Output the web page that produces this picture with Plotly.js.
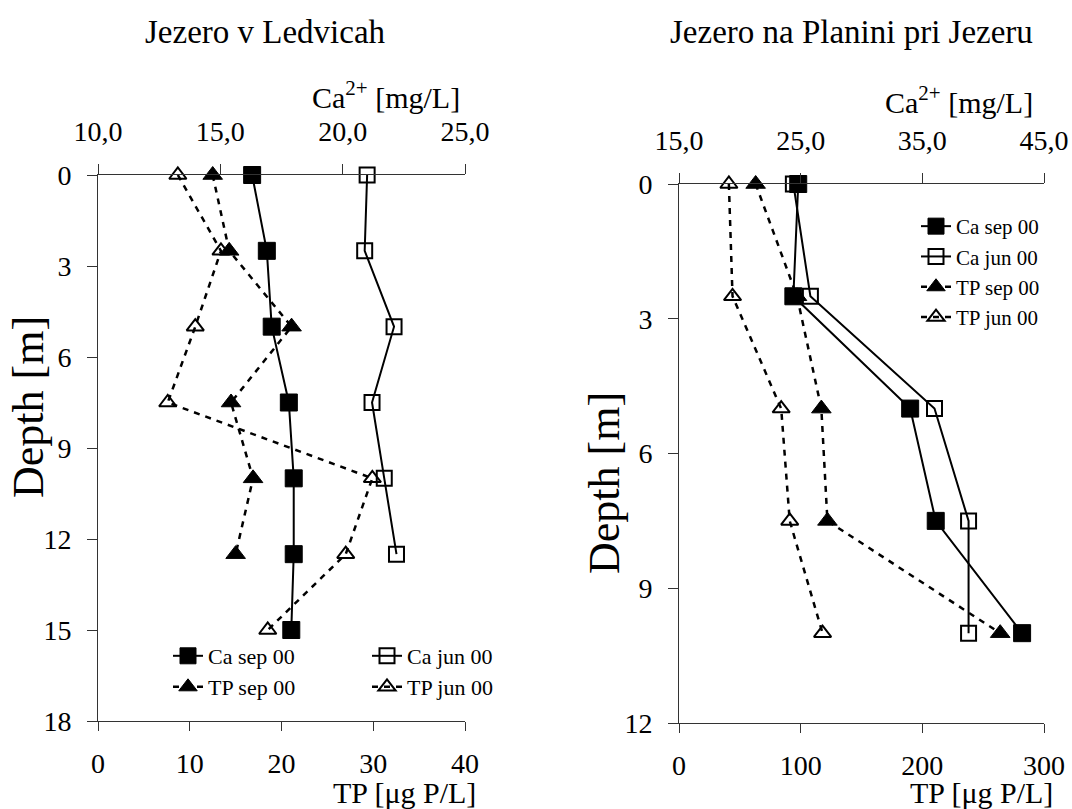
<!DOCTYPE html>
<html>
<head>
<meta charset="utf-8">
<script src="https://cdn.plot.ly/plotly-3.0.1.min.js"></script>
<style>html,body{margin:0;padding:0;background:#fff;}#chart{width:1072px;height:809px;}</style>
</head>
<body>
<div id="chart"></div>
<script>
// ---------- data: Jezero v Ledvicah ----------
const depthL      = [0, 2.5, 5, 7.5, 10, 12.5, 15];
const depthL6     = [0, 2.5, 5, 7.5, 10, 12.5];
const caSepL      = [16.3, 16.9, 17.1, 17.8, 18.0, 18.0, 17.9];
const caJunL      = [21.0, 20.9, 22.1, 21.2, 21.7, 22.2];
const tpSepL      = [12.5, 14.3, 21.1, 14.5, 16.9, 15.0];
const tpJunL      = [8.7, 13.4, 10.6, 7.6, 29.9, 27.0, 18.5];
// ---------- data: Jezero na Planini pri Jezeru ----------
const depthR      = [0, 2.5, 5, 7.5, 10];
const caSepR      = [24.8, 24.4, 34.0, 36.1, 43.2];
const caJunR      = [24.4, 25.8, 36.0, 38.8, 38.8];
const tpSepR      = [63, 97, 117, 122, 264];
const tpJunR      = [41, 44, 84, 91, 118];
// ---------- labels ----------
const seriesNames = ['Ca sep 00', 'Ca jun 00', 'TP sep 00', 'TP jun 00'];
const titles      = ['Jezero v Ledvicah', 'Jezero na Planini pri Jezeru'];
const caTitle     = 'Ca<sup>2+</sup> [mg/L]';
const tpTitle     = 'TP [μg P/L]';
const depthTitle  = 'Depth [m]';
const depthTicksL = [0, 3, 6, 9, 12, 15, 18];
const depthTicksR = [0, 3, 6, 9, 12];
const caTicksL    = [10, 15, 20, 25];
const caTicksR    = [15, 25, 35, 45];
const tpTicksL    = [0, 10, 20, 30, 40];
const tpTicksR    = [0, 100, 200, 300];

const W = 1072, H = 809;
const px = v => v / W;
const py = v => 1 - v / H;
const FONT = "'Liberation Serif', 'Times New Roman', Times, serif";

function styleOf(kind) {
  const solid = {color: '#000', width: 2};
  const dashed = {color: '#000', width: 2.5, dash: '6px,6px'};
  switch (kind) {
    case 0: return {line: solid,  marker: {symbol: 'square', size: 17, color: '#000', line: {color: '#000', width: 1}}};
    case 1: return {line: solid,  marker: {symbol: 'square-open', size: 15, color: '#000', line: {color: '#000', width: 2}}};
    case 2: return {line: dashed, marker: {symbol: 'triangle-up', size: 17, color: '#000', line: {color: '#000', width: 1}}};
    default: return {line: dashed, marker: {symbol: 'triangle-up-open', size: 15, color: '#000', line: {color: '#000', width: 2}}};
  }
}
function tr(kind, x, y, xa, ya, legend) {
  const s = styleOf(kind);
  return Object.assign({
    type: 'scatter', mode: 'lines+markers', name: seriesNames[kind],
    x: x, y: y, xaxis: xa, yaxis: ya, legend: legend, legendrank: kind + 1,
    cliponaxis: false, hoverinfo: 'skip'
  }, s);
}

const data = [
  // left panel (draw order: TP jun, TP sep, Ca jun, Ca sep)
  tr(3, tpJunL, depthL,  'x',  'y', 'legend2'),
  tr(2, tpSepL, depthL6, 'x',  'y', 'legend2'),
  tr(1, caJunL, depthL6, 'x2', 'y', 'legend'),
  tr(0, caSepL, depthL,  'x2', 'y', 'legend'),
  // right panel
  tr(3, tpJunR, depthR, 'x3', 'y2', 'legend3'),
  tr(2, tpSepR, depthR, 'x3', 'y2', 'legend3'),
  tr(1, caJunR, depthR, 'x4', 'y2', 'legend3'),
  tr(0, caSepR, depthR, 'x4', 'y2', 'legend3')
];

const axBase = {
  showgrid: false, zeroline: false, showline: true, linecolor: '#333', linewidth: 1,
  ticks: 'outside', tickcolor: '#333', tickwidth: 1, ticklen: 10,
  tickfont: {family: FONT, size: 28, color: '#000'}, fixedrange: true
};
const ax = o => Object.assign({}, axBase, o);

const LX = [98, 465], RX = [679, 1044];
const LY = [175, 721], RY = [184, 723];

const layout = {
  width: W, height: H,
  margin: {l: 0, r: 0, t: 0, b: 0},
  paper_bgcolor: '#fff', plot_bgcolor: 'rgba(0,0,0,0)',
  separators: ', ',
  font: {family: FONT, color: '#000'},
  hovermode: false,
  // left
  xaxis:  ax({domain: [px(LX[0]), px(LX[1])], range: [0, 40], tickvals: tpTicksL, anchor: 'y', side: 'bottom', ticklen: 9, ticklabelstandoff: 8}),
  xaxis5: ax({domain: [px(LX[0]), px(LX[1])], range: [0, 40], tickvals: tpTicksL, anchor: 'y', overlaying: 'x', side: 'bottom', ticks: 'inside', ticklen: 9, showticklabels: false, showline: false}),
  xaxis2: ax({domain: [px(LX[0]), px(LX[1])], range: [10, 25], tickvals: caTicksL, tickformat: '.1f', anchor: 'y', overlaying: 'x', side: 'top', ticklabelstandoff: 12}),
  yaxis:  ax({domain: [py(LY[1]), py(LY[0])], range: [18, 0], tickvals: depthTicksL, anchor: 'x', ticklabelstandoff: 10}),
  // right
  xaxis3: ax({domain: [px(RX[0]), px(RX[1])], range: [0, 300], tickvals: tpTicksR, anchor: 'y2', side: 'bottom', ticklen: 9, ticklabelstandoff: 8}),
  xaxis6: ax({domain: [px(RX[0]), px(RX[1])], range: [0, 300], tickvals: tpTicksR, anchor: 'y2', overlaying: 'x3', side: 'bottom', ticks: 'inside', ticklen: 9, showticklabels: false, showline: false}),
  xaxis4: ax({domain: [px(RX[0]), px(RX[1])], range: [15, 45], tickvals: caTicksR, tickformat: '.1f', anchor: 'y2', overlaying: 'x3', side: 'top', ticklabelstandoff: 12}),
  yaxis2: ax({domain: [py(RY[1]), py(RY[0])], range: [12, 0], tickvals: depthTicksR, anchor: 'x3', ticklabelstandoff: 10}),
  legend:  {orientation: 'h', x: px(168), xanchor: 'left', y: py(656), yanchor: 'middle', entrywidth: 154, entrywidthmode: 'pixels',
            bgcolor: 'rgba(0,0,0,0)', borderwidth: 0, font: {family: FONT, size: 22, color: '#000'}, traceorder: 'normal'},
  legend2: {orientation: 'h', x: px(168), xanchor: 'left', y: py(687), yanchor: 'middle', entrywidth: 154, entrywidthmode: 'pixels',
            bgcolor: 'rgba(0,0,0,0)', borderwidth: 0, font: {family: FONT, size: 22, color: '#000'}, traceorder: 'normal'},
  legend3: {orientation: 'v', x: px(916), xanchor: 'left', y: py(272), yanchor: 'middle',
            bgcolor: 'rgba(0,0,0,0)', borderwidth: 0, font: {family: FONT, size: 21, color: '#000'}, traceorder: 'normal'},
  annotations: [
    {text: titles[0], x: px(265), y: py(32), xref: 'paper', yref: 'paper', xanchor: 'center', yanchor: 'middle', showarrow: false, font: {family: FONT, size: 33}},
    {text: titles[1], x: px(851), y: py(32), xref: 'paper', yref: 'paper', xanchor: 'center', yanchor: 'middle', showarrow: false, font: {family: FONT, size: 33}},
    {text: caTitle, x: px(462), y: py(95), xref: 'paper', yref: 'paper', xanchor: 'right', yanchor: 'middle', showarrow: false, font: {family: FONT, size: 30}},
    {text: caTitle, x: px(1035), y: py(100), xref: 'paper', yref: 'paper', xanchor: 'right', yanchor: 'middle', showarrow: false, font: {family: FONT, size: 30}},
    {text: tpTitle, x: px(478), y: py(792), xref: 'paper', yref: 'paper', xanchor: 'right', yanchor: 'middle', showarrow: false, font: {family: FONT, size: 30}},
    {text: tpTitle, x: px(1055), y: py(792), xref: 'paper', yref: 'paper', xanchor: 'right', yanchor: 'middle', showarrow: false, font: {family: FONT, size: 30}},
    {text: depthTitle, x: px(28), y: py(407), xref: 'paper', yref: 'paper', xanchor: 'center', yanchor: 'middle', textangle: -90, showarrow: false, font: {family: FONT, size: 44}},
    {text: depthTitle, x: px(604), y: py(483), xref: 'paper', yref: 'paper', xanchor: 'center', yanchor: 'middle', textangle: -90, showarrow: false, font: {family: FONT, size: 44}}
  ]
};

Plotly.newPlot('chart', data, layout, {staticPlot: true, displayModeBar: false});
</script>
</body>
</html>
